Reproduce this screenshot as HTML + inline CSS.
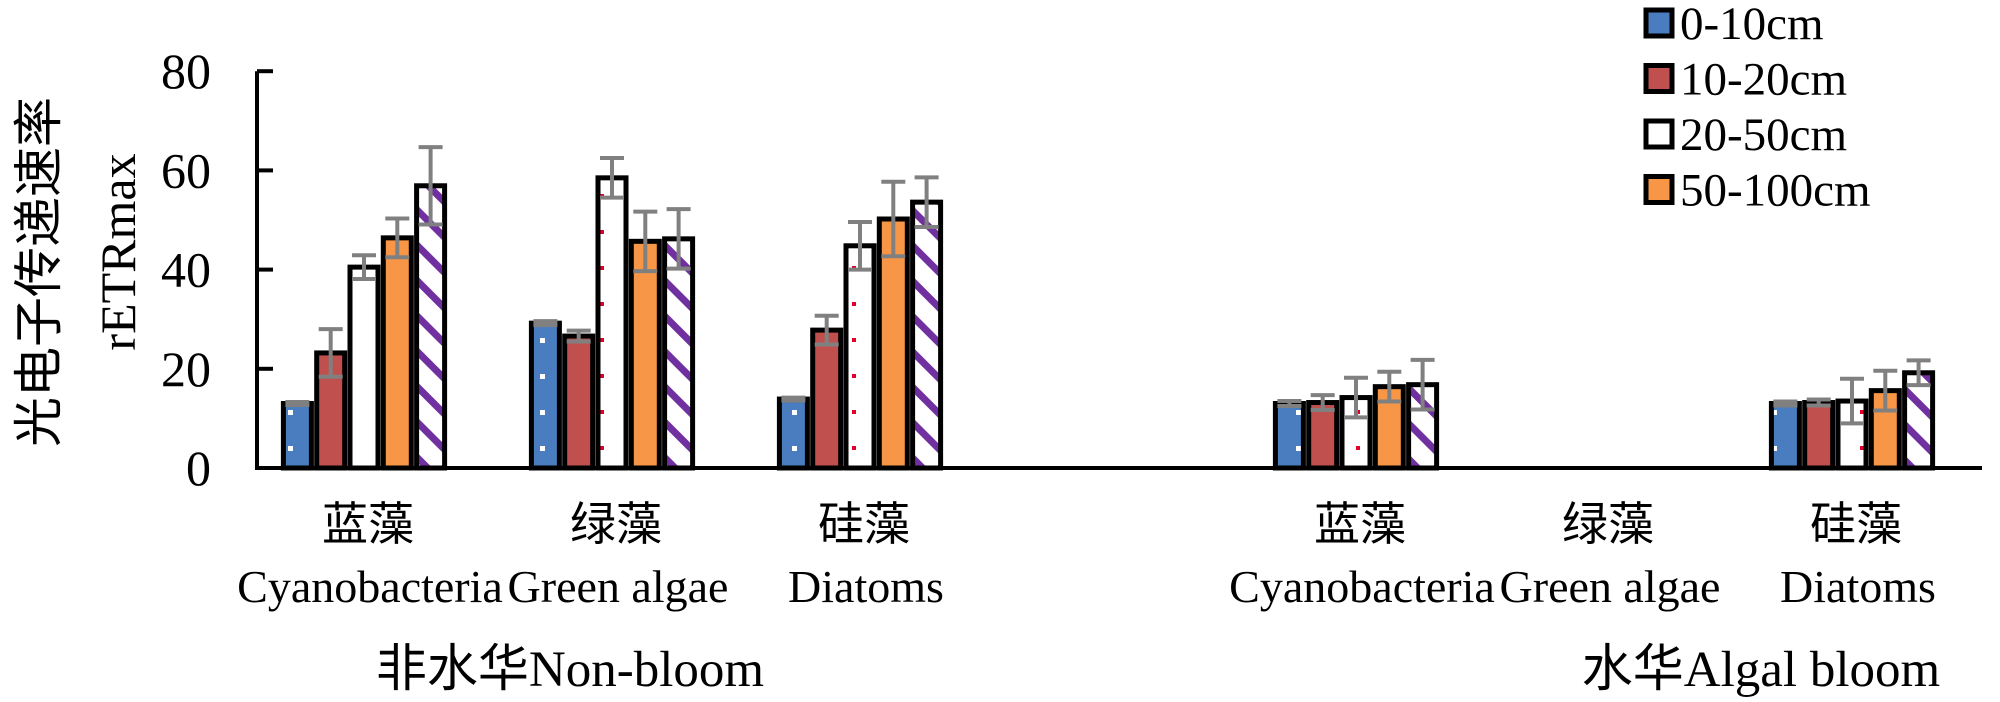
<!DOCTYPE html>
<html><head><meta charset="utf-8"><style>
html,body{margin:0;padding:0;background:#fff;}
svg{display:block;font-family:"Liberation Serif","Noto Sans CJK SC",serif;}
</style></head><body>
<svg id="chart" width="2000" height="702" viewBox="0 0 2000 702" xmlns="http://www.w3.org/2000/svg">
<defs>
<pattern id="pBlue" patternUnits="userSpaceOnUse" width="28" height="36"><rect width="28" height="36" fill="#4a7dbf"/><rect x="8" y="14" width="5" height="5" fill="#fff"/></pattern>
<pattern id="pWhite" patternUnits="userSpaceOnUse" width="28" height="36"><rect width="28" height="36" fill="#fff"/><rect x="12" y="14" width="4" height="4" fill="#e0002a"/></pattern>
<pattern id="pHatch" patternUnits="userSpaceOnUse" width="25" height="25" patternTransform="rotate(45)"><rect width="25" height="25" fill="#fff"/><rect x="0" y="0" width="25" height="7" fill="#7030a0"/></pattern>
</defs>
<g id="axes"></g>
<g id="bars"></g>
<g id="labels"></g>
</svg>
<script>
const categories = ["蓝藻|Cyanobacteria","绿藻|Green algae","硅藻|Diatoms","","蓝藻|Cyanobacteria","绿藻|Green algae","硅藻|Diatoms"];
const seriesNames = ["0-10cm","10-20cm","20-50cm","50-100cm","100-150cm"];
const s0 = [13.0, 29.2, 13.9, null, 13.0, null, 13.0];
const s1 = [23.2, 26.6, 27.8, null, 13.2, null, 13.2];
const s2 = [40.5, 58.5, 44.8, null, 14.2, null, 13.5];
const s3 = [46.4, 45.7, 50.2, null, 16.4, null, 15.6];
const s4 = [56.9, 46.2, 53.6, null, 16.8, null, 19.2];
const e0 = [0.3, 0.4, 0.3, null, 0.5, null, 0.4];
const e1 = [4.8, 1.1, 2.9, null, 1.5, null, 0.6];
const e2 = [2.4, 4.0, 4.8, null, 4.0, null, 4.5];
const e3 = [3.9, 6.0, 7.5, null, 3.0, null, 4.0];
const e4 = [7.8, 6.0, 5.0, null, 5.0, null, 2.5];
const yTicks = [0, 20, 40, 60, 80];
const groupLabels = ["非水华Non-bloom","水华Algal bloom"];

const NS="http://www.w3.org/2000/svg";
const series=[s0,s1,s2,s3,s4], errs=[e0,e1,e2,e3,e4];
const fills=["url(#pBlue)","#c0504d","url(#pWhite)","#f79646","url(#pHatch)"];
const legendFills=["#4a7dbf","#c0504d","#fff","#f79646"];
const X0=257, Y0=468, YK=4.96, PITCH=248, C0=364, BP=33.3, BW=28;
const y = v => Y0 - v*YK;
const xc = i => C0 + i*PITCH;
function mk(tag, attrs, parent){const e=document.createElementNS(NS,tag);for(const k in attrs)e.setAttribute(k,attrs[k]);parent.appendChild(e);return e;}
const axes=document.getElementById('axes'), bars=document.getElementById('bars'), labels=document.getElementById('labels');

let l=mk('line',{x1:X0,y1:y(80),x2:X0,y2:Y0+2,stroke:'#000','stroke-width':4},axes);


l=mk('line',{x1:X0-2,y1:Y0,x2:1982,y2:Y0,stroke:'#000','stroke-width':4},axes);


yTicks.forEach(t=>{
  const tk=mk('line',{x1:X0,y1:y(t),x2:X0+16,y2:y(t),stroke:'#000','stroke-width':4},axes);
  
  
  const tx=mk('text',{x:211,y:y(t)+17,'text-anchor':'end','font-size':50},axes);
  tx.textContent=t;
  
  
});
let yt=mk('text',{x:0,y:0,'font-size':50,'text-anchor':'middle',transform:'translate(56,272) rotate(-90)'},labels);
yt.textContent='光电子传递速率';


yt=mk('text',{x:0,y:0,'font-size':50,'text-anchor':'middle',transform:'translate(135,252) rotate(-90)'},labels);
yt.textContent='rETRmax';



categories.forEach((c,i)=>{
  series.forEach((s,k)=>{
    const v=s[i]; if(v==null) return;
    const bx=xc(i)+(k-2)*BP;
    const r=mk('rect',{x:bx-BW/2,y:y(v),width:BW,height:Y0-y(v),fill:fills[k],stroke:'#000','stroke-width':5},bars);
    
    
    const e=errs[k][i];
    const g=mk('path',{d:`M${bx} ${y(v+e)}V${y(v-e)}M${bx-12} ${y(v+e)}H${bx+12}M${bx-12} ${y(v-e)}H${bx+12}`,stroke:'#808080','stroke-width':4,fill:'none'},bars);
    
    
  });
  if(!c) return;
  const parts=c.split('|');
  const t1=mk('text',{x:xc(i)+4,y:540,'text-anchor':'middle','font-size':46},labels);
  t1.textContent=parts[0];
  
  
  const t2=mk('text',{x:xc(i)+6,y:602,'text-anchor':'middle','font-size':46},labels);
  t2.textContent=parts[1];
  
  
});
[570,1761].forEach((gx,j)=>{
  const t=mk('text',{x:gx,y:686,'text-anchor':'middle','font-size':51},labels);
  t.textContent=groupLabels[j];
  
  
});
legendFills.forEach((f,k)=>{
  const ly=23+k*55.5;
  const r=mk('rect',{x:1646,y:ly-13,width:26,height:26,fill:f,stroke:'#000','stroke-width':5},labels);
  
  
  const t=mk('text',{x:1680,y:ly+16,'font-size':47},labels);
  t.textContent=seriesNames[k];
  
  
});
</script>
</body></html>
